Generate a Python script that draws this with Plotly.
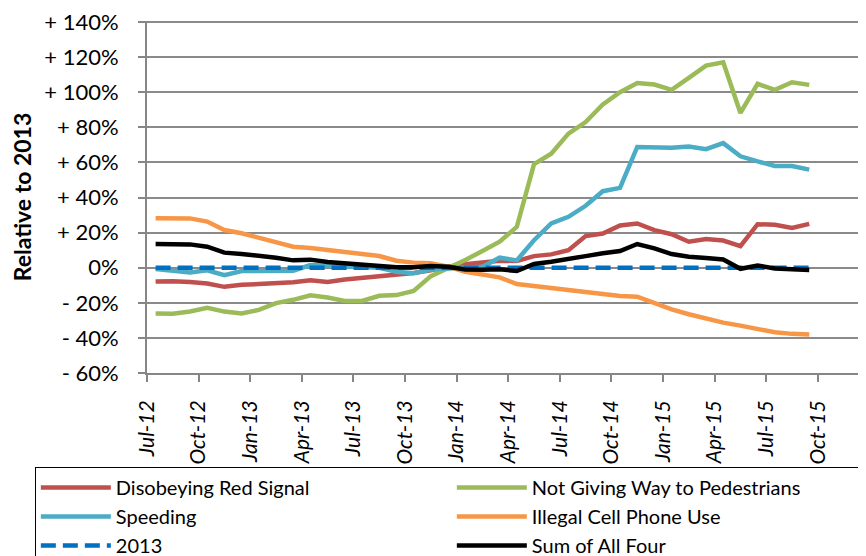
import plotly.graph_objects as go

# Monthly data, Jul-2012 .. Sep-2015 (39 months), % relative to 2013
months = ["Jul-12","Aug-12","Sep-12","Oct-12","Nov-12","Dec-12",
          "Jan-13","Feb-13","Mar-13","Apr-13","May-13","Jun-13",
          "Jul-13","Aug-13","Sep-13","Oct-13","Nov-13","Dec-13",
          "Jan-14","Feb-14","Mar-14","Apr-14","May-14","Jun-14",
          "Jul-14","Aug-14","Sep-14","Oct-14","Nov-14","Dec-14",
          "Jan-15","Feb-15","Mar-15","Apr-15","May-15","Jun-15",
          "Jul-15","Aug-15","Sep-15"]

red_signal = [-7.9, -7.7, -8.2, -9.0, -10.9, -9.7, -9.3, -9.0, -8.3, -7.1,
              -8.1, -6.7, -5.8, -5.1, -4.4, -3.0, -1.5, 0.6, 2.0, 3.3,
              4.0, 3.8, 6.6, 7.6, 10.0, 18.0, 19.5, 24.1, 25.2, 21.4,
              19.1, 14.8, 16.3, 15.5, 12.3, 24.8, 24.5, 22.7, 25.0]
pedestrians = [-26.1, -26.2, -24.9, -22.9, -25.0, -26.1, -24.0, -20.2, -18.3, -15.7,
               -17.0, -18.9, -18.9, -16.0, -15.6, -13.3, -4.8, -0.4, 4.4, 9.5,
               14.8, 23.3, 59.0, 65.0, 76.4, 83.0, 93.0, 100.0, 105.2, 104.4,
               101.4, 108.2, 115.2, 117.1, 88.2, 104.8, 101.4, 105.7, 104.2]
speeding = [-0.8, -1.7, -2.7, -1.5, -4.3, -1.9, -1.7, -1.7, -1.7, 1.5,
            1.2, 0.6, 0.3, 0.0, -2.3, -3.2, -1.0, -0.4, 0.6, 0.6,
            5.7, 4.2, 15.7, 25.2, 29.0, 35.3, 43.6, 45.5, 68.8, 68.8,
            68.4, 69.1, 67.6, 71.0, 63.5, 60.6, 58.0, 58.0, 55.9]
cell_phone = [28.2, 27.9, 28.1, 26.3, 21.5, 19.6, 17.1, 14.9, 12.0, 11.2,
              10.1, 9.1, 8.2, 6.7, 4.0, 2.9, 2.5, 0.6, -2.3, -4.2,
              -5.5, -9.3, -10.4, -11.8, -12.7, -13.8, -15.2, -16.1, -16.5, -20.3,
              -23.7, -26.5, -29.2, -31.3, -33.0, -34.9, -36.8, -37.7, -38.1]
baseline_2013 = [0.0] * 39
sum_all_four = [13.5, 13.5, 13.3, 12.0, 8.6, 7.8, 6.9, 5.7, 4.2, 4.6,
                3.2, 2.5, 2.1, 1.5, 0.2, 0.2, 1.0, 0.6, -1.0, -1.1,
                -0.9, -1.9, 2.1, 3.4, 4.7, 6.6, 8.2, 9.5, 13.5, 11.0,
                7.8, 6.3, 5.5, 4.7, -0.6, 1.3, -0.4, -0.9, -1.3]

x_tick_labels = ["Jul-12","Oct-12","Jan-13","Apr-13","Jul-13","Oct-13","Jan-14",
                 "Apr-14","Jul-14","Oct-14","Jan-15","Apr-15","Jul-15","Oct-15"]
y_tick_vals = [-60, -40, -20, 0, 20, 40, 60, 80, 100, 120, 140]
y_tick_text = ["- 60%", "- 40%", "- 20%", "0%", "+ 20%", "+ 40%", "+ 60%",
               "+ 80%", "+ 100%", "+ 120%", "+ 140%"]

# month index positions (points centred in their month)
xs = [i + 0.5 for i in range(len(months))]
x_tick_pos = [3 * k for k in range(len(x_tick_labels))]

FONT = "Lato, Carlito, Calibri, sans-serif"
LW = 4.5

fig = go.Figure()
series = [
    ("Disobeying Red Signal", red_signal, "#C0504D", "solid"),
    ("Not Giving Way to Pedestrians", pedestrians, "#9BBB59", "solid"),
    ("Speeding", speeding, "#4BACC6", "solid"),
    ("Illegal Cell Phone Use", cell_phone, "#F79646", "solid"),
    ("2013", baseline_2013, "#0070C0", "15px,7px"),
    ("Sum of All Four", sum_all_four, "#000000", "solid"),
]
for name, vals, col, dash in series:
    fig.add_trace(go.Scatter(
        x=xs, y=vals, name=name, mode="lines",
        line=dict(color=col, width=LW, dash=dash),
        customdata=months,
        hovertemplate="%{customdata}: %{y:.1f}%<extra>" + name + "</extra>",
    ))

fig.update_layout(
    width=866, height=556,
    margin=dict(l=139, r=8, t=13, b=191, autoexpand=False),
    paper_bgcolor="white", plot_bgcolor="white",
    font=dict(family=FONT, size=22, color="#000000"),
    legend=dict(
        orientation="h",
        x=-0.156, xanchor="left",
        y=-0.2673, yanchor="top",
        entrywidth=331, entrywidthmode="pixels",
        bordercolor="#000000", borderwidth=1,
        font=dict(family=FONT, size=20, color="#000000"),
        tracegroupgap=0, itemwidth=70,
    ),
    xaxis=dict(
        range=[0, 41.8],
        tickmode="array", tickvals=x_tick_pos, ticktext=x_tick_labels,
        tickangle=-90,
        tickfont=dict(family=FONT, size=21, style="italic"),
        showgrid=False, zeroline=False,
        showline=True, linecolor="#868686", linewidth=2,
        ticks="outside", ticklen=7, tickcolor="#868686", tickwidth=1.5,
        ticklabelstandoff=10,
    ),
    yaxis=dict(
        range=[-60, 140.6],
        tickmode="array", tickvals=y_tick_vals, ticktext=y_tick_text,
        tickfont=dict(family=FONT, size=22),
        ticklabeloverflow="allow",
        showgrid=True, gridcolor="#8A8A8A", gridwidth=1.5,
        zeroline=False,
        showline=True, linecolor="#868686", linewidth=2,
        ticks="outside", ticklen=7, tickcolor="#868686", tickwidth=1.5,
        ticklabelstandoff=15,
        automargin=True,
        title=dict(text="<b>Relative to 2013</b>", font=dict(family=FONT, size=23),
                   standoff=8),
    ),
)

fig.write_html("out.html")
